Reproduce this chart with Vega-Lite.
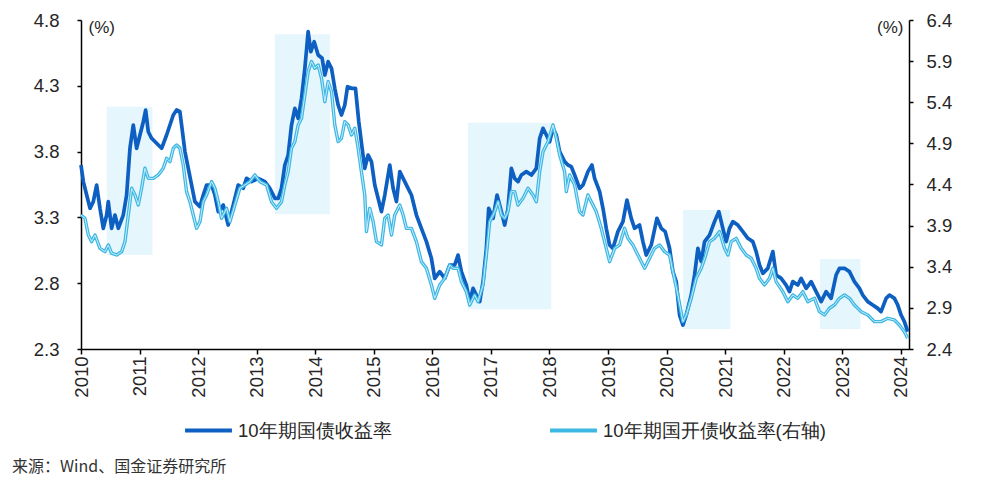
{
"$schema":"https://vega.github.io/schema/vega-lite/v6.json",
"width":828,"height":329,
"autosize":"none",
"padding":{"left":81,"top":20,"right":91,"bottom":138},
"background":"white",
"config":{
 "view":{"stroke":null},
 "axis":{"labelFont":"Liberation Sans","labelFontSize":18.5,"labelColor":"#262626","titleFont":"Liberation Sans","titleFontSize":17,"titleFontWeight":"normal","titleColor":"#262626","domainColor":"#000","domainWidth":1.5,"tickColor":"#000","tickWidth":1.5,"grid":false,"labelOverlap":false,"labelFlush":false},
 "legend":{"orient":"none","legendX":102,"legendY":385,"direction":"horizontal","symbolType":"stroke","symbolSize":2200,"symbolStrokeWidth":4,"labelFont":"Liberation Sans","labelFontSize":18.5,"labelColor":"#262626","columnPadding":150,"labelOffset":4,"labelLimit":400}
},
"title":{"text":"来源：Wind、国金证券研究所","orient":"bottom","anchor":"start","frame":"group","dx":-69,"offset":19,"font":"Noto Sans CJK SC","fontSize":16,"fontWeight":"normal","color":"#333333"},
"datasets":{
 "bands":[
  {"x0":2010.44,"x1":2011.22,"y0":3.014,"y1":4.141},
  {"x0":2013.31,"x1":2014.25,"y0":3.324,"y1":4.691},
  {"x0":2016.61,"x1":2018.03,"y0":2.602,"y1":4.02},
  {"x0":2020.28,"x1":2021.09,"y0":2.452,"y1":3.356},
  {"x0":2022.62,"x1":2023.31,"y0":2.452,"y1":2.984}
 ],
 "gz":[
  {"t":2010.0,"v":3.698},{"t":2010.04,"v":3.572},{"t":2010.097,"v":3.47},{"t":2010.154,"v":3.369},{"t":2010.21,"v":3.42},{"t":2010.267,"v":3.546},{"t":2010.324,"v":3.369},{"t":2010.381,"v":3.217},{"t":2010.438,"v":3.318},{"t":2010.466,"v":3.42},{"t":2010.523,"v":3.217},{"t":2010.58,"v":3.318},{"t":2010.637,"v":3.217},{"t":2010.722,"v":3.318},{"t":2010.779,"v":3.47},{"t":2010.836,"v":3.825},{"t":2010.893,"v":4.002},{"t":2010.95,"v":3.825},{"t":2011.007,"v":3.926},{"t":2011.064,"v":4.027},{"t":2011.104,"v":4.116},{"t":2011.149,"v":3.951},{"t":2011.206,"v":3.901},{"t":2011.291,"v":3.863},{"t":2011.377,"v":3.825},{"t":2011.462,"v":3.926},{"t":2011.519,"v":4.002},{"t":2011.576,"v":4.078},{"t":2011.633,"v":4.116},{"t":2011.689,"v":4.103},{"t":2011.718,"v":4.002},{"t":2011.775,"v":3.8},{"t":2011.832,"v":3.673},{"t":2011.889,"v":3.546},{"t":2011.945,"v":3.42},{"t":2012.031,"v":3.382},{"t":2012.088,"v":3.47},{"t":2012.145,"v":3.546},{"t":2012.23,"v":3.546},{"t":2012.287,"v":3.47},{"t":2012.344,"v":3.344},{"t":2012.429,"v":3.394},{"t":2012.514,"v":3.242},{"t":2012.6,"v":3.394},{"t":2012.685,"v":3.546},{"t":2012.77,"v":3.521},{"t":2012.827,"v":3.597},{"t":2012.912,"v":3.572},{"t":2013.026,"v":3.597},{"t":2013.14,"v":3.572},{"t":2013.225,"v":3.521},{"t":2013.311,"v":3.445},{"t":2013.368,"v":3.445},{"t":2013.424,"v":3.521},{"t":2013.481,"v":3.698},{"t":2013.538,"v":3.774},{"t":2013.595,"v":4.002},{"t":2013.652,"v":4.129},{"t":2013.709,"v":4.053},{"t":2013.766,"v":4.205},{"t":2013.823,"v":4.433},{"t":2013.879,"v":4.711},{"t":2013.925,"v":4.559},{"t":2013.982,"v":4.635},{"t":2014.05,"v":4.534},{"t":2014.118,"v":4.509},{"t":2014.164,"v":4.382},{"t":2014.221,"v":4.483},{"t":2014.278,"v":4.433},{"t":2014.334,"v":4.281},{"t":2014.391,"v":4.154},{"t":2014.448,"v":4.078},{"t":2014.505,"v":4.154},{"t":2014.551,"v":4.293},{"t":2014.619,"v":4.281},{"t":2014.687,"v":4.281},{"t":2014.744,"v":4.027},{"t":2014.801,"v":3.825},{"t":2014.846,"v":3.673},{"t":2014.903,"v":3.774},{"t":2014.96,"v":3.724},{"t":2015.017,"v":3.546},{"t":2015.074,"v":3.445},{"t":2015.131,"v":3.344},{"t":2015.188,"v":3.47},{"t":2015.273,"v":3.698},{"t":2015.33,"v":3.521},{"t":2015.387,"v":3.42},{"t":2015.444,"v":3.648},{"t":2015.501,"v":3.597},{"t":2015.586,"v":3.521},{"t":2015.643,"v":3.47},{"t":2015.728,"v":3.318},{"t":2015.813,"v":3.217},{"t":2015.899,"v":3.116},{"t":2015.984,"v":2.989},{"t":2016.041,"v":2.837},{"t":2016.126,"v":2.888},{"t":2016.212,"v":2.837},{"t":2016.297,"v":2.938},{"t":2016.382,"v":2.938},{"t":2016.439,"v":3.014},{"t":2016.496,"v":2.888},{"t":2016.581,"v":2.786},{"t":2016.638,"v":2.66},{"t":2016.695,"v":2.761},{"t":2016.752,"v":2.71},{"t":2016.809,"v":2.66},{"t":2016.866,"v":2.812},{"t":2016.923,"v":3.065},{"t":2016.962,"v":3.369},{"t":2017.037,"v":3.293},{"t":2017.105,"v":3.47},{"t":2017.179,"v":3.344},{"t":2017.235,"v":3.242},{"t":2017.292,"v":3.369},{"t":2017.349,"v":3.673},{"t":2017.406,"v":3.597},{"t":2017.463,"v":3.572},{"t":2017.52,"v":3.622},{"t":2017.605,"v":3.648},{"t":2017.691,"v":3.622},{"t":2017.776,"v":3.673},{"t":2017.833,"v":3.901},{"t":2017.89,"v":3.977},{"t":2017.947,"v":3.926},{"t":2018.003,"v":3.875},{"t":2018.06,"v":3.977},{"t":2018.117,"v":3.926},{"t":2018.174,"v":3.8},{"t":2018.259,"v":3.724},{"t":2018.316,"v":3.698},{"t":2018.373,"v":3.686},{"t":2018.43,"v":3.622},{"t":2018.515,"v":3.521},{"t":2018.572,"v":3.546},{"t":2018.657,"v":3.648},{"t":2018.726,"v":3.698},{"t":2018.771,"v":3.597},{"t":2018.857,"v":3.496},{"t":2018.914,"v":3.369},{"t":2018.97,"v":3.217},{"t":2019.027,"v":3.09},{"t":2019.084,"v":3.065},{"t":2019.169,"v":3.192},{"t":2019.255,"v":3.268},{"t":2019.323,"v":3.432},{"t":2019.397,"v":3.293},{"t":2019.454,"v":3.217},{"t":2019.539,"v":3.242},{"t":2019.596,"v":3.116},{"t":2019.653,"v":3.014},{"t":2019.738,"v":3.09},{"t":2019.835,"v":3.293},{"t":2019.909,"v":3.217},{"t":2019.977,"v":3.192},{"t":2020.051,"v":3.065},{"t":2020.108,"v":2.888},{"t":2020.165,"v":2.812},{"t":2020.222,"v":2.558},{"t":2020.279,"v":2.482},{"t":2020.336,"v":2.558},{"t":2020.421,"v":2.71},{"t":2020.478,"v":2.862},{"t":2020.535,"v":3.065},{"t":2020.592,"v":2.964},{"t":2020.649,"v":3.116},{"t":2020.734,"v":3.166},{"t":2020.819,"v":3.268},{"t":2020.893,"v":3.344},{"t":2020.961,"v":3.217},{"t":2021.018,"v":3.116},{"t":2021.075,"v":3.217},{"t":2021.132,"v":3.268},{"t":2021.217,"v":3.242},{"t":2021.303,"v":3.192},{"t":2021.388,"v":3.141},{"t":2021.473,"v":3.116},{"t":2021.53,"v":3.04},{"t":2021.587,"v":2.938},{"t":2021.644,"v":2.875},{"t":2021.729,"v":2.913},{"t":2021.815,"v":3.04},{"t":2021.871,"v":2.862},{"t":2021.957,"v":2.837},{"t":2022.042,"v":2.786},{"t":2022.099,"v":2.736},{"t":2022.156,"v":2.812},{"t":2022.241,"v":2.786},{"t":2022.298,"v":2.837},{"t":2022.384,"v":2.761},{"t":2022.469,"v":2.812},{"t":2022.554,"v":2.736},{"t":2022.64,"v":2.66},{"t":2022.725,"v":2.736},{"t":2022.81,"v":2.685},{"t":2022.895,"v":2.862},{"t":2022.952,"v":2.913},{"t":2023.038,"v":2.913},{"t":2023.123,"v":2.888},{"t":2023.208,"v":2.812},{"t":2023.294,"v":2.761},{"t":2023.35,"v":2.71},{"t":2023.436,"v":2.66},{"t":2023.521,"v":2.634},{"t":2023.606,"v":2.609},{"t":2023.663,"v":2.584},{"t":2023.749,"v":2.685},{"t":2023.806,"v":2.71},{"t":2023.891,"v":2.685},{"t":2023.948,"v":2.634},{"t":2024.005,"v":2.558},{"t":2024.061,"v":2.508},{"t":2024.118,"v":2.432}
 ],
 "gk":[
  {"t":2010.0,"v":4.029},{"t":2010.068,"v":3.989},{"t":2010.125,"v":3.786},{"t":2010.182,"v":3.705},{"t":2010.239,"v":3.786},{"t":2010.324,"v":3.624},{"t":2010.41,"v":3.584},{"t":2010.466,"v":3.665},{"t":2010.523,"v":3.563},{"t":2010.609,"v":3.543},{"t":2010.694,"v":3.584},{"t":2010.751,"v":3.705},{"t":2010.808,"v":4.029},{"t":2010.865,"v":4.354},{"t":2010.922,"v":4.273},{"t":2010.978,"v":4.151},{"t":2011.035,"v":4.354},{"t":2011.092,"v":4.597},{"t":2011.149,"v":4.475},{"t":2011.234,"v":4.475},{"t":2011.32,"v":4.516},{"t":2011.405,"v":4.597},{"t":2011.462,"v":4.718},{"t":2011.519,"v":4.678},{"t":2011.576,"v":4.84},{"t":2011.633,"v":4.88},{"t":2011.689,"v":4.84},{"t":2011.746,"v":4.637},{"t":2011.803,"v":4.313},{"t":2011.86,"v":4.191},{"t":2011.917,"v":4.029},{"t":2011.974,"v":3.867},{"t":2012.031,"v":3.948},{"t":2012.088,"v":4.191},{"t":2012.145,"v":4.273},{"t":2012.23,"v":4.435},{"t":2012.287,"v":4.354},{"t":2012.344,"v":4.191},{"t":2012.4,"v":3.989},{"t":2012.486,"v":4.11},{"t":2012.543,"v":3.948},{"t":2012.628,"v":4.151},{"t":2012.713,"v":4.354},{"t":2012.799,"v":4.394},{"t":2012.884,"v":4.435},{"t":2012.969,"v":4.516},{"t":2013.055,"v":4.435},{"t":2013.168,"v":4.394},{"t":2013.254,"v":4.191},{"t":2013.339,"v":4.11},{"t":2013.424,"v":4.191},{"t":2013.481,"v":4.394},{"t":2013.538,"v":4.556},{"t":2013.595,"v":4.84},{"t":2013.652,"v":4.921},{"t":2013.709,"v":5.124},{"t":2013.766,"v":5.205},{"t":2013.823,"v":5.488},{"t":2013.879,"v":5.772},{"t":2013.936,"v":5.894},{"t":2013.993,"v":5.813},{"t":2014.05,"v":5.853},{"t":2014.107,"v":5.691},{"t":2014.164,"v":5.407},{"t":2014.221,"v":5.65},{"t":2014.278,"v":5.529},{"t":2014.334,"v":5.124},{"t":2014.391,"v":4.921},{"t":2014.448,"v":4.962},{"t":2014.505,"v":5.164},{"t":2014.562,"v":5.124},{"t":2014.619,"v":5.002},{"t":2014.676,"v":5.083},{"t":2014.733,"v":4.84},{"t":2014.789,"v":4.556},{"t":2014.846,"v":4.273},{"t":2014.875,"v":3.827},{"t":2014.932,"v":4.11},{"t":2014.989,"v":3.948},{"t":2015.046,"v":3.705},{"t":2015.131,"v":3.665},{"t":2015.188,"v":3.989},{"t":2015.245,"v":4.029},{"t":2015.302,"v":3.786},{"t":2015.358,"v":4.029},{"t":2015.444,"v":4.151},{"t":2015.501,"v":4.029},{"t":2015.557,"v":3.867},{"t":2015.643,"v":3.867},{"t":2015.728,"v":3.705},{"t":2015.813,"v":3.462},{"t":2015.899,"v":3.381},{"t":2015.984,"v":3.178},{"t":2016.041,"v":3.016},{"t":2016.126,"v":3.178},{"t":2016.212,"v":3.259},{"t":2016.297,"v":3.421},{"t":2016.354,"v":3.381},{"t":2016.439,"v":3.381},{"t":2016.496,"v":3.219},{"t":2016.581,"v":3.097},{"t":2016.638,"v":2.935},{"t":2016.723,"v":3.057},{"t":2016.78,"v":2.976},{"t":2016.866,"v":3.178},{"t":2016.923,"v":3.543},{"t":2016.98,"v":3.948},{"t":2017.065,"v":4.07},{"t":2017.122,"v":4.191},{"t":2017.179,"v":4.029},{"t":2017.235,"v":3.989},{"t":2017.292,"v":4.07},{"t":2017.349,"v":4.313},{"t":2017.406,"v":4.313},{"t":2017.463,"v":4.151},{"t":2017.548,"v":4.232},{"t":2017.634,"v":4.354},{"t":2017.719,"v":4.273},{"t":2017.776,"v":4.191},{"t":2017.833,"v":4.556},{"t":2017.89,"v":4.799},{"t":2017.975,"v":4.921},{"t":2018.06,"v":5.124},{"t":2018.117,"v":4.962},{"t":2018.174,"v":4.759},{"t":2018.259,"v":4.556},{"t":2018.288,"v":4.313},{"t":2018.345,"v":4.516},{"t":2018.43,"v":4.394},{"t":2018.515,"v":4.07},{"t":2018.572,"v":4.029},{"t":2018.657,"v":4.273},{"t":2018.714,"v":4.191},{"t":2018.8,"v":4.07},{"t":2018.885,"v":3.867},{"t":2018.97,"v":3.624},{"t":2019.027,"v":3.462},{"t":2019.113,"v":3.624},{"t":2019.198,"v":3.665},{"t":2019.283,"v":3.867},{"t":2019.34,"v":3.746},{"t":2019.425,"v":3.665},{"t":2019.511,"v":3.543},{"t":2019.625,"v":3.381},{"t":2019.71,"v":3.503},{"t":2019.795,"v":3.624},{"t":2019.881,"v":3.665},{"t":2019.966,"v":3.584},{"t":2020.051,"v":3.543},{"t":2020.108,"v":3.34},{"t":2020.193,"v":3.057},{"t":2020.279,"v":2.733},{"t":2020.336,"v":2.814},{"t":2020.421,"v":3.016},{"t":2020.506,"v":3.259},{"t":2020.592,"v":3.381},{"t":2020.66,"v":3.52},{"t":2020.734,"v":3.705},{"t":2020.819,"v":3.746},{"t":2020.905,"v":3.827},{"t":2020.99,"v":3.624},{"t":2021.047,"v":3.543},{"t":2021.104,"v":3.705},{"t":2021.189,"v":3.746},{"t":2021.274,"v":3.624},{"t":2021.36,"v":3.543},{"t":2021.445,"v":3.503},{"t":2021.53,"v":3.381},{"t":2021.587,"v":3.259},{"t":2021.672,"v":3.178},{"t":2021.758,"v":3.259},{"t":2021.815,"v":3.381},{"t":2021.871,"v":3.219},{"t":2021.985,"v":3.097},{"t":2022.071,"v":2.976},{"t":2022.156,"v":3.057},{"t":2022.241,"v":3.016},{"t":2022.327,"v":3.097},{"t":2022.412,"v":2.976},{"t":2022.526,"v":3.016},{"t":2022.611,"v":2.854},{"t":2022.696,"v":2.814},{"t":2022.782,"v":2.895},{"t":2022.867,"v":2.935},{"t":2022.952,"v":3.016},{"t":2023.038,"v":3.057},{"t":2023.123,"v":3.016},{"t":2023.208,"v":2.935},{"t":2023.322,"v":2.854},{"t":2023.436,"v":2.814},{"t":2023.549,"v":2.733},{"t":2023.663,"v":2.733},{"t":2023.777,"v":2.773},{"t":2023.891,"v":2.753},{"t":2023.976,"v":2.692},{"t":2024.061,"v":2.611},{"t":2024.118,"v":2.53}
 ]
},
"layer":[
 {"layer":[
  {"data":{"name":"bands"},"mark":{"type":"rect","color":"#E6F6FD"},
   "encoding":{
    "x":{"field":"x0","type":"quantitative","scale":{"domain":[2010,2024.14],"nice":false,"zero":false},"axis":{"values":[2010,2011,2012,2013,2014,2015,2016,2017,2018,2019,2020,2021,2022,2023,2024],"format":"d","labelAngle":-90,"title":null,"labelPadding":2,"tickSize":5}},
    "x2":{"field":"x1"},
    "y":{"field":"y0","type":"quantitative","scale":{"domain":[2.3,4.8],"nice":false,"zero":false},"axis":{"values":[2.3,2.8,3.3,3.8,4.3,4.8],"format":".1f","title":"(%)","titleAngle":0,"titleX":7,"titleY":-1,"titleAlign":"left","titleBaseline":"top","labelPadding":18,"tickSize":4}},
    "y2":{"field":"y1"}}},
  {"data":{"name":"gz"},"mark":{"type":"line","strokeWidth":3.7,"strokeJoin":"round"},
   "encoding":{
    "x":{"field":"t","type":"quantitative","scale":{"domain":[2010,2024.14],"nice":false,"zero":false},"axis":{"values":[2010,2011,2012,2013,2014,2015,2016,2017,2018,2019,2020,2021,2022,2023,2024],"format":"d","labelAngle":-90,"title":null,"labelPadding":2,"tickSize":5}},
    "y":{"field":"v","type":"quantitative","scale":{"domain":[2.3,4.8],"nice":false,"zero":false},"axis":{"values":[2.3,2.8,3.3,3.8,4.3,4.8],"format":".1f","title":"(%)","titleAngle":0,"titleX":7,"titleY":-1,"titleAlign":"left","titleBaseline":"top","labelPadding":18,"tickSize":4}},
    "color":{"datum":"10年期国债收益率","type":"nominal","scale":{"domain":["10年期国债收益率","10年期国开债收益率(右轴)"],"range":["#0D5FC2","#3DB7E4"]},"legend":{"title":null}}}}
 ]},
 {"layer":[
  {"data":{"name":"gk"},"mark":{"type":"line","strokeWidth":3.4,"strokeJoin":"round"},
   "encoding":{
    "x":{"field":"t","type":"quantitative","scale":{"domain":[2010,2024.14],"nice":false,"zero":false},"axis":{"values":[2010,2011,2012,2013,2014,2015,2016,2017,2018,2019,2020,2021,2022,2023,2024],"format":"d","labelAngle":-90,"title":null,"labelPadding":2,"tickSize":5}},
    "y":{"field":"v","type":"quantitative","scale":{"domain":[2.4,6.4],"nice":false,"zero":false},"axis":{"orient":"right","values":[2.4,2.9,3.4,3.9,4.4,4.9,5.4,5.9,6.4],"format":".1f","title":"(%)","titleAngle":0,"titleX":-6,"titleY":-1,"titleAlign":"right","titleBaseline":"top","labelPadding":13,"tickSize":4}},
    "color":{"datum":"10年期国开债收益率(右轴)","type":"nominal","legend":{"title":null}}}},
  {"data":{"name":"gk"},"mark":{"type":"line","strokeWidth":1,"color":"#C8EDFA","strokeJoin":"round"},
   "encoding":{
    "x":{"field":"t","type":"quantitative","scale":{"domain":[2010,2024.14],"nice":false,"zero":false},"axis":{"values":[2010,2011,2012,2013,2014,2015,2016,2017,2018,2019,2020,2021,2022,2023,2024],"format":"d","labelAngle":-90,"title":null,"labelPadding":2,"tickSize":5}},
    "y":{"field":"v","type":"quantitative","scale":{"domain":[2.4,6.4],"nice":false,"zero":false},"axis":{"orient":"right","values":[2.4,2.9,3.4,3.9,4.4,4.9,5.4,5.9,6.4],"format":".1f","title":"(%)","titleAngle":0,"titleX":-6,"titleY":-1,"titleAlign":"right","titleBaseline":"top","labelPadding":13,"tickSize":4}}}}
 ]}
],
"resolve":{"scale":{"y":"independent"}}
}
